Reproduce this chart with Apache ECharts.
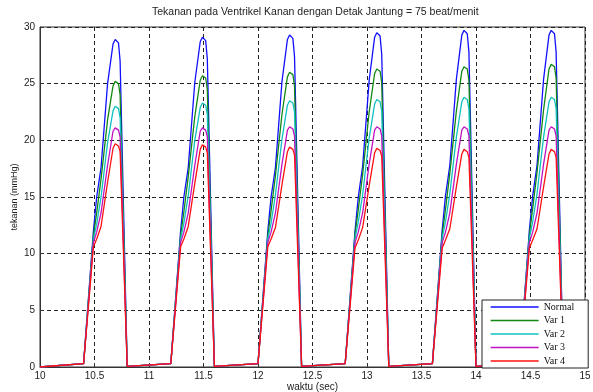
<!DOCTYPE html>
<html>
<head>
<meta charset="utf-8">
<script src="https://cdn.jsdelivr.net/npm/echarts@6/dist/echarts.min.js"></script>
<style>html,body{margin:0;padding:0;background:#fff}#c{width:593px;height:392px}</style>
</head>
<body>
<div id="c"></div>
<script>
var titleText = 'Tekanan pada Ventrikel Kanan dengan Detak Jantung = 75 beat/menit';
var xName = 'waktu (sec)';
var yName = 'tekanan (mmHg)';
var seriesNames = ['Normal', 'Var 1', 'Var 2', 'Var 3', 'Var 4'];

var time = [10.00,
  10.40, 10.49, 10.52, 10.56, 10.62, 10.67, 10.69, 10.72, 10.735, 10.80,
  11.20, 11.29, 11.32, 11.36, 11.42, 11.47, 11.49, 11.52, 11.535, 11.60,
  12.00, 12.09, 12.12, 12.16, 12.22, 12.27, 12.29, 12.32, 12.335, 12.40,
  12.80, 12.89, 12.92, 12.96, 13.02, 13.07, 13.09, 13.12, 13.135, 13.20,
  13.60, 13.69, 13.72, 13.76, 13.82, 13.87, 13.89, 13.92, 13.935, 14.00,
  14.40, 14.49, 14.52, 14.56, 14.62, 14.67, 14.69, 14.72, 14.735, 14.80,
  15.00];

var normal = [0.0,
  0.3, 12.0, 15.0, 17.6, 25.0, 28.5, 28.9, 28.6, 27.0, 0.05,
  0.3, 12.0, 15.0, 17.6, 25.1, 28.7, 29.1, 28.8, 27.2, 0.05,
  0.3, 12.0, 15.0, 17.6, 25.2, 28.9, 29.3, 29.0, 27.4, 0.05,
  0.3, 12.0, 15.0, 17.7, 25.3, 29.1, 29.5, 29.2, 27.6, 0.05,
  0.3, 12.1, 15.1, 17.8, 25.4, 29.3, 29.7, 29.4, 27.8, 0.05,
  0.3, 12.1, 15.1, 17.8, 25.4, 29.3, 29.7, 29.4, 27.8, 0.05,
  0.1];

var var1 = [0.0,
  0.3, 11.6, 13.6, 16.6, 21.8, 24.8, 25.2, 25.0, 24.0, 0.05,
  0.3, 11.6, 13.7, 16.8, 22.1, 25.3, 25.7, 25.5, 24.5, 0.05,
  0.3, 11.6, 13.8, 16.9, 22.3, 25.6, 26.0, 25.8, 24.8, 0.05,
  0.3, 11.7, 13.9, 17.0, 22.5, 25.9, 26.3, 26.1, 25.1, 0.05,
  0.3, 11.7, 13.9, 17.1, 22.6, 26.1, 26.5, 26.3, 25.3, 0.05,
  0.3, 11.7, 14.0, 17.2, 22.7, 26.3, 26.7, 26.5, 25.5, 0.05,
  0.1];

var var2 = [0.0,
  0.3, 11.3, 12.6, 15.0, 19.8, 22.6, 23.0, 22.8, 22.0, 0.05,
  0.3, 11.3, 12.7, 15.1, 20.0, 22.9, 23.3, 23.1, 22.3, 0.05,
  0.3, 11.3, 12.7, 15.2, 20.1, 23.1, 23.5, 23.3, 22.5, 0.05,
  0.3, 11.3, 12.8, 15.2, 20.2, 23.2, 23.6, 23.4, 22.6, 0.05,
  0.3, 11.4, 12.8, 15.3, 20.3, 23.4, 23.8, 23.6, 22.8, 0.05,
  0.3, 11.4, 12.8, 15.3, 20.3, 23.4, 23.8, 23.6, 22.8, 0.05,
  0.1];

var var3 = [0.0,
  0.3, 11.0, 11.9, 13.6, 17.8, 20.8, 21.1, 20.9, 20.3, 0.05,
  0.3, 11.0, 11.9, 13.6, 17.8, 20.8, 21.1, 20.9, 20.3, 0.05,
  0.3, 11.0, 11.9, 13.6, 17.9, 20.9, 21.2, 21.0, 20.4, 0.05,
  0.3, 11.0, 11.9, 13.6, 17.9, 20.9, 21.2, 21.0, 20.4, 0.05,
  0.3, 11.0, 11.9, 13.6, 17.9, 20.9, 21.2, 21.0, 20.4, 0.05,
  0.3, 11.0, 11.9, 13.6, 17.9, 20.9, 21.2, 21.0, 20.4, 0.05,
  0.1];

var var4 = [0.0,
  0.3, 10.6, 11.3, 12.4, 16.3, 19.3, 19.7, 19.5, 19.0, 0.05,
  0.3, 10.6, 11.3, 12.4, 16.2, 19.2, 19.6, 19.4, 18.9, 0.05,
  0.3, 10.6, 11.3, 12.3, 16.1, 19.0, 19.4, 19.2, 18.7, 0.05,
  0.3, 10.5, 11.2, 12.3, 16.0, 18.9, 19.3, 19.1, 18.6, 0.05,
  0.3, 10.5, 11.2, 12.2, 15.9, 18.8, 19.2, 19.0, 18.5, 0.05,
  0.3, 10.5, 11.2, 12.2, 15.9, 18.8, 19.2, 19.0, 18.5, 0.05,
  0.1];

var allValues = [normal, var1, var2, var3, var4];
var colors = ['#1010ff', '#118811', '#10c0c0', '#c010c0', '#ff1010'];

function pairs(vals) {
  return time.map(function (t, i) { return [t, vals[i]]; });
}

var chart = echarts.init(document.getElementById('c'), null, { renderer: 'canvas' });
var dashed = { show: true, lineStyle: { color: '#222', width: 1, type: [4, 3] } };
var labelFont = { color: '#222', fontSize: 10, fontFamily: 'Liberation Sans' };

chart.setOption({
  animation: false,
  backgroundColor: '#fff',
  title: {
    text: titleText,
    left: 152, top: 7, padding: 0,
    textStyle: { fontSize: 10.5, fontWeight: 'normal', color: '#222', fontFamily: 'Liberation Sans' }
  },
  grid: {
    left: 40, right: 8, top: 27, bottom: 25,
    containLabel: false, outerBoundsMode: 'none',
    show: true, borderColor: '#333', borderWidth: 1, backgroundColor: '#fff'
  },
  legend: {
    orient: 'vertical',
    left: 482, top: 300, z: 20,
    data: seriesNames,
    itemWidth: 48, itemHeight: 10, itemGap: 3.5,
    padding: [2, 14, 2, 8],
    itemStyle: { opacity: 0 },
    lineStyle: { width: 1.3 },
    backgroundColor: '#fff', borderColor: '#222', borderWidth: 1,
    textStyle: { fontSize: 10, color: '#111', fontFamily: 'Liberation Serif', padding: [0, 0, 0, 0] }
  },
  xAxis: {
    type: 'value', min: 10, max: 15, interval: 0.5,
    name: xName, nameLocation: 'middle', nameGap: 15, nameMoveOverlap: false,
    nameTextStyle: labelFont,
    axisLine: { show: true, lineStyle: { color: '#333' } },
    axisTick: { show: true, inside: true, length: 4, lineStyle: { color: '#333' } },
    axisLabel: Object.assign({ margin: 4 }, labelFont),
    splitLine: dashed
  },
  yAxis: {
    type: 'value', min: 0, max: 30, interval: 5,
    name: yName, nameLocation: 'middle', nameGap: 21, nameMoveOverlap: false,
    nameTextStyle: { color: '#222', fontSize: 9, fontFamily: 'Liberation Sans' },
    axisLine: { show: true, lineStyle: { color: '#333' } },
    axisTick: { show: true, inside: true, length: 4, lineStyle: { color: '#333' } },
    axisLabel: Object.assign({ margin: 5 }, labelFont),
    splitLine: dashed
  },
  series: seriesNames.map(function (n, i) {
    return {
      name: n, type: 'line', data: pairs(allValues[i]),
      symbol: 'none', color: colors[i],
      lineStyle: { width: 1.3, color: colors[i] },
      z: 2
    };
  })
});
</script>
</body>
</html>
